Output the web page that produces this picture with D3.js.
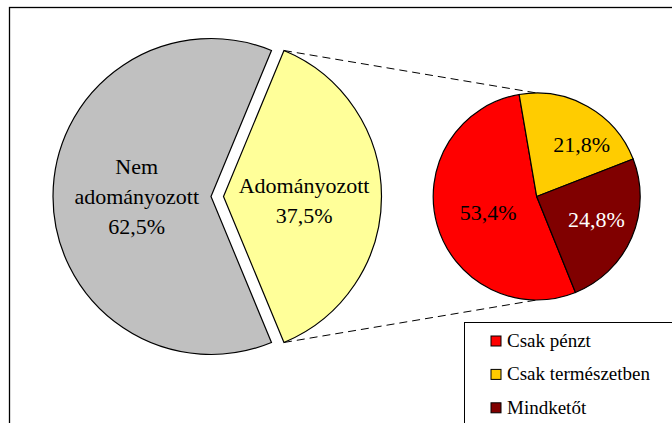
<!DOCTYPE html>
<html><head><meta charset="utf-8"><script src="https://cdn.jsdelivr.net/npm/d3@7"></script></head>
<body style="margin:0">
<svg id="chart" width="672" height="423"></svg>
<script>
// ---- data ----
const mainCategories = ["Nem adományozott", "Adományozott"];
const mainValues = [62.5, 37.5];
const mainColors = ["#C0C0C0", "#FFFF99"];

const subCategories = ["Csak pénzt", "Csak természetben", "Mindketőt"];
const subValues = [53.4, 21.8, 24.8];
const subColors = ["#FF0000", "#FFCC00", "#800000"];
const subTextColors = ["#000", "#000", "#fff"];

// ---- layout ----
const fontOf = () => "'Liberation Serif', monospace";
const W = 672, H = 423;
const svg = d3.select("#chart");
const deg = Math.PI / 180;
const fmt = v => v.toFixed(1).replace(".", ",") + "%";

svg.append("rect").attr("width", W).attr("height", H).attr("fill", "#fff");
// outer frame (extends past the right/bottom edges)
svg.append("rect").attr("x", 9.5).attr("y", 7.5).attr("width", 700).attr("height", 450)
  .attr("fill", "none").attr("stroke", "#000").attr("stroke-width", 1.3);

// ---- main pie ----
const mainC = { x: 211, y: 196.5 }, mainR = 158, explode = 12.5;
const mainPie = d3.pie().sort(null).startAngle(157.5 * deg).endAngle(157.5 * deg + 2 * Math.PI);
const mainArcs = mainPie(mainValues);
const mainArc = d3.arc().innerRadius(0).outerRadius(mainR);

const gMain = svg.append("g").attr("transform", `translate(${mainC.x},${mainC.y})`);
const offsets = mainArcs.map((a, i) => {
  if (i !== 1) return [0, 0];
  const m = (a.startAngle + a.endAngle) / 2;
  return [explode * Math.sin(m), -explode * Math.cos(m)];
});
gMain.selectAll("path.main").data(mainArcs).join("path")
  .attr("class", "main")
  .attr("d", mainArc)
  .attr("transform", (d, i) => `translate(${offsets[i][0]},${offsets[i][1]})`)
  .attr("fill", (d, i) => mainColors[i])
  .attr("stroke", "#000").attr("stroke-width", 1.2).attr("stroke-linejoin", "miter");

// main labels (one text element per line)
const mainLabelFactor = [0.47, 0.51];
const mainLabelNudge = [[0, 0], [0, 3.5]];
const mainLines = [];
mainArcs.forEach((a, i) => {
  const m = (a.startAngle + a.endAngle) / 2;
  const r = mainR * mainLabelFactor[i];
  const cx = offsets[i][0] + r * Math.sin(m) + mainLabelNudge[i][0];
  const cy = offsets[i][1] - r * Math.cos(m) + mainLabelNudge[i][1];
  const lines = mainCategories[i].split(" ").concat([fmt(mainValues[i])]);
  const n = lines.length, lh = 30;
  lines.forEach((ln, j) => mainLines.push({ x: cx, y: cy + (j - (n - 1) / 2) * lh + 7.7, t: ln }));
});
gMain.selectAll("text.ml").data(mainLines).join("text")
  .attr("class", "ml")
  .attr("x", d => d.x).attr("y", d => d.y)
  .attr("text-anchor", "middle")
  .attr("font-size", 22)
  .style("font-family", fontOf)
  .text(d => d.t);

// ---- secondary pie ----
const subC = { x: 536.7, y: 196.5 }, subR = 103.5;
const subPie = d3.pie().sort(null).startAngle(158 * deg).endAngle(158 * deg + 2 * Math.PI);
const subArcs = subPie(subValues);
const subArc = d3.arc().innerRadius(0).outerRadius(subR);

// connector lines from exploded slice corners to the top/bottom of the secondary pie
const ya = mainArcs[1];
const corner = ang => [mainC.x + offsets[1][0] + mainR * Math.sin(ang), mainC.y + offsets[1][1] - mainR * Math.cos(ang)];
const conn = [
  [corner(ya.startAngle), [subC.x, subC.y - subR]],
  [corner(ya.endAngle), [subC.x, subC.y + subR]]
];
svg.selectAll("line.conn").data(conn).join("line")
  .attr("class", "conn")
  .attr("x1", d => d[0][0]).attr("y1", d => d[0][1])
  .attr("x2", d => d[1][0]).attr("y2", d => d[1][1])
  .attr("stroke", "#000").attr("stroke-width", 1).attr("stroke-dasharray", "8,5");

const gSub = svg.append("g").attr("transform", `translate(${subC.x},${subC.y})`);
gSub.selectAll("path.sub").data(subArcs).join("path")
  .attr("class", "sub")
  .attr("d", subArc)
  .attr("fill", (d, i) => subColors[i])
  .attr("stroke", "#000").attr("stroke-width", 1.2);

const subLabelArc = d3.arc().innerRadius(subR * 0.62).outerRadius(subR * 0.62);
const subLabelNudge = [[13.3, -1.7], [13.5, 3.9], [0.7, -2.5]];
gSub.selectAll("text.sub").data(subArcs).join("text")
  .attr("class", "sub")
  .attr("text-anchor", "middle")
  .attr("font-size", 22)
  .style("font-family", fontOf)
  .attr("fill", (d, i) => subTextColors[i])
  .attr("x", (d, i) => subLabelArc.centroid(d)[0] + subLabelNudge[i][0])
  .attr("y", (d, i) => subLabelArc.centroid(d)[1] + subLabelNudge[i][1] + 7.7)
  .text((d, i) => fmt(subValues[i]));

// ---- legend ----
const lg = svg.append("g").attr("transform", "translate(464.5,322.5)");
lg.append("rect").attr("width", 300).attr("height", 200)
  .attr("fill", "#fff").attr("stroke", "#000").attr("stroke-width", 1);
lg.selectAll("rect.sw").data(subCategories).join("rect")
  .attr("class", "sw")
  .attr("x", 26.5).attr("y", (d, i) => 13.5 + i * 33.4).attr("width", 10).attr("height", 10)
  .attr("fill", (d, i) => subColors[i]).attr("stroke", "#000").attr("stroke-width", 1);
lg.selectAll("text.lt").data(subCategories).join("text")
  .attr("class", "lt")
  .attr("x", 42.5).attr("y", (d, i) => 24.2 + i * 33.4)
  .attr("font-size", 19)
  .style("font-family", fontOf)
  .text(d => d);
</script>
</body></html>
